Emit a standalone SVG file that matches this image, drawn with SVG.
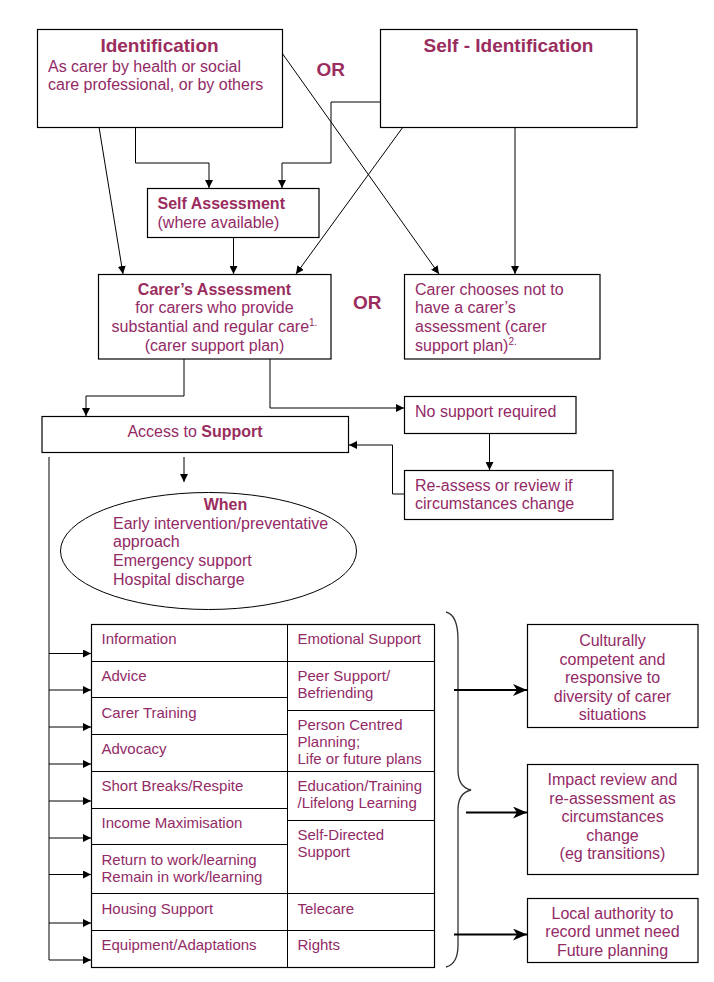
<svg xmlns="http://www.w3.org/2000/svg" width="714" height="982" viewBox="0 0 714 982">
<defs>
<marker id="ah" markerWidth="8" markerHeight="8" refX="8" refY="4" orient="auto" markerUnits="userSpaceOnUse">
<path d="M0,0 L8,4 L0,8 Z" fill="#000"/>
</marker>
<marker id="big" markerWidth="14" markerHeight="12" refX="14" refY="6" orient="auto" markerUnits="userSpaceOnUse">
<path d="M0,0 L14,6 L0,12 L4,6 Z" fill="#000"/>
</marker>
<style>
.box{fill:#fff;stroke:#000;stroke-width:1.2}
.t{font-family:"Liberation Sans",Arial,sans-serif;font-size:16px;fill:#932a66}
.s{font-family:"Liberation Sans",Arial,sans-serif;font-size:15px;fill:#932a66}
.b{font-family:"Liberation Sans",Arial,sans-serif;font-weight:bold;fill:#9a2d5e}
.c{text-anchor:middle}
.ln{fill:none;stroke:#000;stroke-width:1}
.th{fill:none;stroke:#000;stroke-width:2.2}
</style>
</defs>
<rect width="714" height="982" fill="#fff"/>

<g id="connectors">
<path class="ln" d="M99,127 L123,274" marker-end="url(#ah)"/>
<path class="ln" d="M135.5,127 V163 H209 V188" marker-end="url(#ah)"/>
<path class="ln" d="M380,102 H331 V163 H282 V188" marker-end="url(#ah)"/>
<path class="ln" d="M282,53 L439,274" marker-end="url(#ah)"/>
<path class="ln" d="M403,127 L296,274" marker-end="url(#ah)"/>
<path class="ln" d="M515,127 V274" marker-end="url(#ah)"/>
<path class="ln" d="M233.5,237 V274" marker-end="url(#ah)"/>
<path class="ln" d="M184,359 V396 H86 V416" marker-end="url(#ah)"/>
<path class="ln" d="M270,359 V408 H404" marker-end="url(#ah)"/>
<path class="ln" d="M489.5,433 V470" marker-end="url(#ah)"/>
<path class="ln" d="M404,494 H392.5 V445 H349" marker-end="url(#ah)"/>
<path class="ln" d="M184,457 V482" marker-end="url(#ah)"/>
<path class="ln" d="M49,457 V960"/>
<path class="ln" d="M49,653.5 H91" marker-end="url(#ah)"/>
<path class="ln" d="M49,690 H91" marker-end="url(#ah)"/>
<path class="ln" d="M49,727 H91" marker-end="url(#ah)"/>
<path class="ln" d="M49,764 H91" marker-end="url(#ah)"/>
<path class="ln" d="M49,801 H91" marker-end="url(#ah)"/>
<path class="ln" d="M49,838 H91" marker-end="url(#ah)"/>
<path class="ln" d="M49,874.5 H91" marker-end="url(#ah)"/>
<path class="ln" d="M49,923 H91" marker-end="url(#ah)"/>
<path class="ln" d="M49,960 H91" marker-end="url(#ah)"/>
<path d="M446,612 C454,614 458,622 458,640 L458,770 C458,782 462,788 471,790 C462,792 458,798 458,810 L458,945 C458,958 454,965 446,967" fill="none" stroke="#333" stroke-width="1.3"/>
<path class="th" d="M454,690 H527" marker-end="url(#big)"/>
<path class="th" d="M466,812.5 H527" marker-end="url(#big)"/>
<path class="th" d="M454,934.5 H527" marker-end="url(#big)"/>
</g>

<g id="identification">
<rect class="box" x="37.5" y="29.5" width="245" height="98"/>
<text class="b c" x="159.5" y="52" font-size="19">Identification</text>
<text class="t" x="48" y="72">As carer by health or social</text>
<text class="t" x="48" y="89.5">care professional, or by others</text>
</g>

<text id="or1" class="b" x="316.5" y="76" font-size="19">OR</text>

<g id="self-identification">
<rect class="box" x="380.5" y="29.5" width="256.5" height="98"/>
<text class="b c" x="508.5" y="52" font-size="19">Self - Identification</text>
</g>

<g id="self-assessment">
<rect class="box" x="147.5" y="188.5" width="171.5" height="49"/>
<text class="b" x="157.5" y="209" font-size="16">Self Assessment</text>
<text class="t" x="157.5" y="227.5">(where available)</text>
</g>

<g id="carers-assessment">
<rect class="box" x="98.5" y="274.5" width="232.5" height="84.5"/>
<text class="b c" x="214.5" y="294.5" font-size="16">Carer’s Assessment</text>
<text class="t c" x="214.5" y="313">for carers who provide</text>
<text class="t c" x="214.5" y="332">substantial and regular care<tspan font-size="10" dy="-6">1.</tspan></text>
<text class="t c" x="214.5" y="350.5">(carer support plan)</text>
</g>

<text id="or2" class="b" x="353" y="308.5" font-size="19">OR</text>

<g id="carer-chooses">
<rect class="box" x="404.5" y="274.5" width="195.5" height="84.5"/>
<text class="t" x="415" y="294.5">Carer chooses not to</text>
<text class="t" x="415" y="313">have a carer’s</text>
<text class="t" x="415" y="332">assessment (carer</text>
<text class="t" x="415" y="350.5">support plan)<tspan font-size="10" dy="-6">2.</tspan></text>
</g>

<g id="access-support">
<rect class="box" x="42" y="416.5" width="306.5" height="36"/>
<text class="t c" x="195" y="436.5">Access to <tspan class="b">Support</tspan></text>
</g>

<g id="no-support">
<rect class="box" x="404.5" y="396.5" width="171.5" height="37"/>
<text class="t" x="415" y="417">No support required</text>
</g>

<g id="reassess">
<rect class="box" x="404.5" y="470.5" width="208.5" height="49"/>
<text class="t" x="415" y="491">Re-assess or review if</text>
<text class="t" x="415" y="508.5">circumstances change</text>
</g>

<g id="when">
<ellipse cx="208.5" cy="551" rx="148" ry="58.5" fill="#fff" stroke="#000" stroke-width="1"/>
<text class="b c" x="225.5" y="509.5" font-size="16">When</text>
<text class="t" x="113" y="528.5">Early intervention/preventative</text>
<text class="t" x="113" y="546.5">approach</text>
<text class="t" x="113" y="565.5">Emergency support</text>
<text class="t" x="113" y="584.5">Hospital discharge</text>
</g>

<g id="support-table">
<rect class="box" x="91.5" y="624.5" width="343" height="343" fill="none"/>
<path class="ln" d="M287.5,624.5 V967.5"/>
<path class="ln" d="M91.5,661.5 H434.5 M91.5,697.5 H287.5 M91.5,734.5 H287.5 M91.5,771.5 H434.5 M91.5,808.5 H287.5 M91.5,844.5 H287.5 M91.5,893.5 H434.5 M91.5,930.5 H434.5 M287.5,710.5 H434.5 M287.5,820.5 H434.5"/>
<text class="s" x="101.5" y="644">Information</text>
<text class="s" x="101.5" y="681">Advice</text>
<text class="s" x="101.5" y="717.5">Carer Training</text>
<text class="s" x="101.5" y="754">Advocacy</text>
<text class="s" x="101.5" y="791">Short Breaks/Respite</text>
<text class="s" x="101.5" y="828">Income Maximisation</text>
<text class="s" x="101.5" y="864.5">Return to work/learning</text>
<text class="s" x="101.5" y="882">Remain in work/learning</text>
<text class="s" x="101.5" y="913.5">Housing Support</text>
<text class="s" x="101.5" y="950">Equipment/Adaptations</text>
<text class="s" x="297.5" y="644">Emotional Support</text>
<text class="s" x="297.5" y="681">Peer Support/</text>
<text class="s" x="297.5" y="698">Befriending</text>
<text class="s" x="297.5" y="730">Person Centred</text>
<text class="s" x="297.5" y="747">Planning;</text>
<text class="s" x="297.5" y="763.5">Life or future plans</text>
<text class="s" x="297.5" y="791">Education/Training</text>
<text class="s" x="297.5" y="807.5">/Lifelong Learning</text>
<text class="s" x="297.5" y="840">Self-Directed</text>
<text class="s" x="297.5" y="857">Support</text>
<text class="s" x="297.5" y="913.5">Telecare</text>
<text class="s" x="297.5" y="950">Rights</text>
</g>

<g id="culturally">
<rect class="box" x="527.5" y="624.5" width="170.5" height="103"/>
<text class="t c" x="612.5" y="646">Culturally</text>
<text class="t c" x="612.5" y="664.5">competent and</text>
<text class="t c" x="612.5" y="683">responsive to</text>
<text class="t c" x="612.5" y="701.5">diversity of carer</text>
<text class="t c" x="612.5" y="720">situations</text>
</g>

<g id="impact-review">
<rect class="box" x="527.5" y="764.5" width="170.5" height="110"/>
<text class="t c" x="612.5" y="785">Impact review and</text>
<text class="t c" x="612.5" y="803.5">re-assessment as</text>
<text class="t c" x="612.5" y="822">circumstances</text>
<text class="t c" x="612.5" y="840.5">change</text>
<text class="t c" x="612.5" y="859">(eg transitions)</text>
</g>

<g id="local-authority">
<rect class="box" x="527.5" y="898.5" width="170.5" height="64"/>
<text class="t c" x="612.5" y="918.5">Local authority to</text>
<text class="t c" x="612.5" y="937">record unmet need</text>
<text class="t c" x="612.5" y="955.5">Future planning</text>
</g>
</svg>
